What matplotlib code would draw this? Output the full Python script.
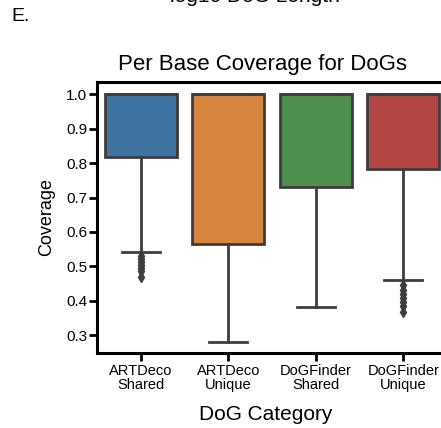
import matplotlib
matplotlib.use("Agg")
import matplotlib.pyplot as plt

plt.rcParams['font.family'] = ['Liberation Sans', 'DejaVu Sans']

categories = ["ARTDeco\nShared", "ARTDeco\nUnique", "DoGFinder\nShared", "DoGFinder\nUnique"]
q1 = [0.817, 0.564, 0.731, 0.784]
median = [1.0, 1.0, 1.0, 1.0]
q3 = [1.0, 1.0, 1.0, 1.0]
whislo = [0.543, 0.279, 0.381, 0.460]
whishi = [1.0, 1.0, 1.0, 1.0]
fliers = [
    [0.530, 0.520, 0.512, 0.504, 0.496, 0.485, 0.470],
    [],
    [],
    [0.445, 0.432, 0.420, 0.408, 0.396, 0.385, 0.368],
]
colors = ["#3f74a0", "#d6853f", "#4e8f4f", "#b44746"]
yticks = [0.3, 0.4, 0.5, 0.6, 0.7, 0.8, 0.9, 1.0]

W, H = 441, 428
fig = plt.figure(figsize=(W / 100, H / 100), dpi=100)
ax = fig.add_axes([97 / W, 1 - 353 / H, 350 / W, (353 - 82) / H])

stats = []
for i in range(len(categories)):
    stats.append(dict(q1=q1[i], med=median[i], q3=q3[i], whislo=whislo[i],
                      whishi=whishi[i], fliers=fliers[i]))

edge = "#3d3d3d"
bp = ax.bxp(stats, positions=range(len(categories)), widths=0.82,
            patch_artist=True, showfliers=True,
            boxprops=dict(edgecolor=edge, linewidth=2.0),
            whiskerprops=dict(color=edge, linewidth=2.0),
            capprops=dict(color=edge, linewidth=2.0),
            medianprops=dict(color=edge, linewidth=2.0),
            flierprops=dict(marker='d', markersize=5, markerfacecolor=edge,
                            markeredgecolor=edge, linestyle='none'),
            capwidths=0.43)
for patch, c in zip(bp['boxes'], colors):
    patch.set_facecolor(c)

ax.set_xlim(-0.5, 3.5)
ax.set_ylim(0.248, 1.036)
ax.set_yticks(yticks)
ax.set_yticklabels([f"{v:.1f}" for v in yticks])
ax.set_xticks(range(len(categories)))
ax.set_xticklabels(categories, fontsize=10.5, linespacing=1.0)
ax.tick_params(axis='y', labelsize=11, width=2, length=6, pad=1)
ax.tick_params(axis='x', width=2, length=6, pad=2)

for s in ax.spines.values():
    s.set_linewidth(2.2)
    s.set_color('black')

ax.set_ylabel("Coverage", fontsize=13)
ax.yaxis.set_label_coords((55 - 97) / 350, 0.5)
ax.set_xlabel("DoG Category", fontsize=15)
ax.xaxis.set_label_coords((266 - 97) / 350, -(420 - 353) / (353 - 82))
ax.xaxis.label.set_va('baseline')

fig.text(262.5 / W, 1 - 70 / H, "Per Base Coverage for DoGs", fontsize=16,
         ha='center', va='baseline')
fig.text(11 / W, 1 - 21 / H, "E.", fontsize=14, ha='left', va='baseline')
fig.text(255 / W, 1 - 2 / H, "log10 DoG Length", fontsize=15, ha='center', va='baseline')

fig.savefig("out.png", dpi=100)
